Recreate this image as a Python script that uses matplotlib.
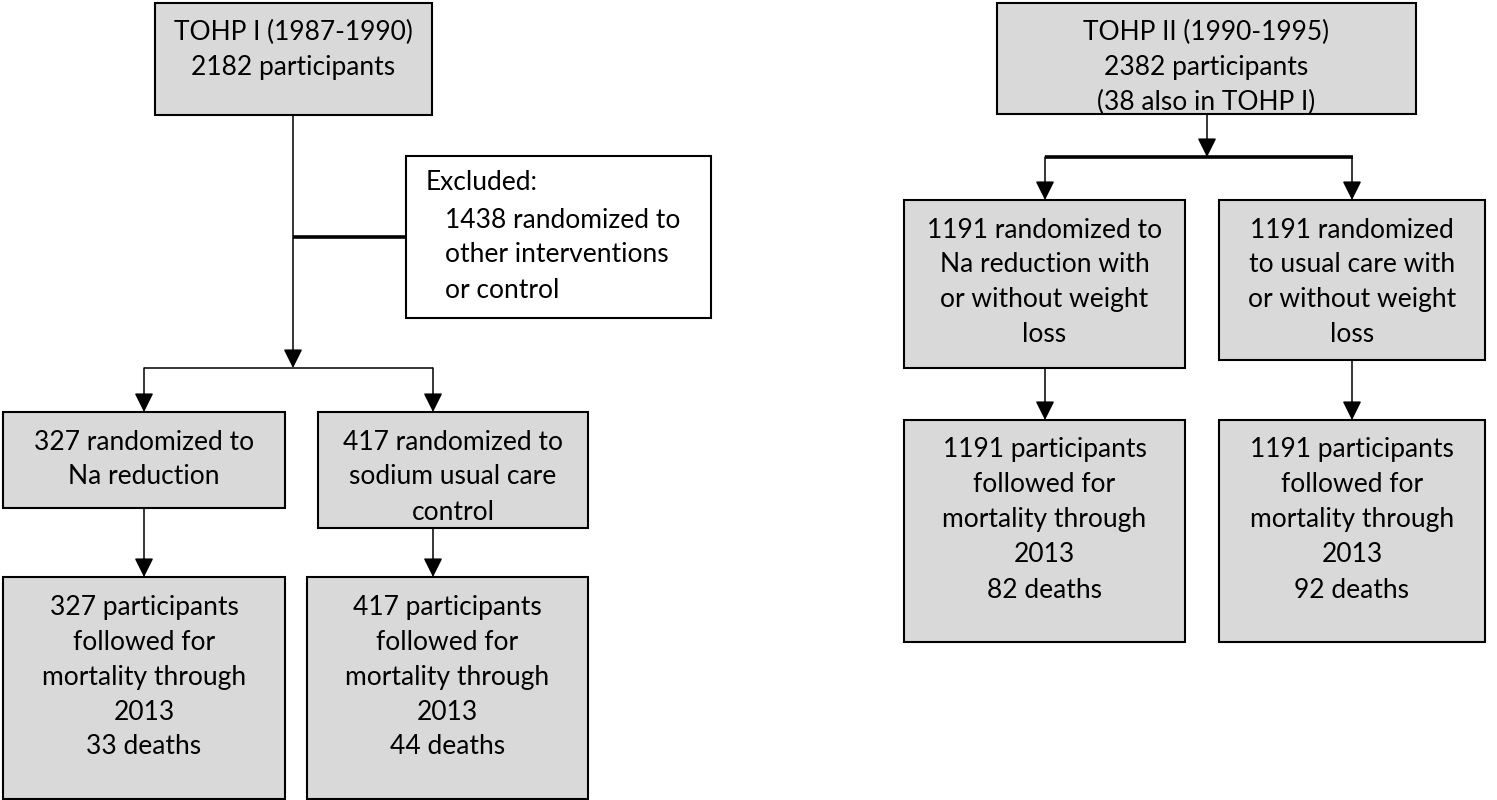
import matplotlib.pyplot as plt
from matplotlib.patches import Rectangle

# text of every box, one list per box
tohp1_top = ['TOHP I (1987-1990)', '2182 participants']
tohp1_excluded = ['Excluded:', '1438 randomized to', 'other interventions', 'or control']
tohp1_arm_na = ['327 randomized to', 'Na reduction']
tohp1_arm_uc = ['417 randomized to', 'sodium usual care', 'control']
tohp1_fu_na = ['327 participants', 'followed for', 'mortality through', '2013', '33 deaths']
tohp1_fu_uc = ['417 participants', 'followed for', 'mortality through', '2013', '44 deaths']

tohp2_top = ['TOHP II (1990-1995)', '2382 participants', '(38 also in TOHP I)']
tohp2_arm_na = ['1191 randomized to', 'Na reduction with', 'or without weight', 'loss']
tohp2_arm_uc = ['1191 randomized', 'to usual care with', 'or without weight', 'loss']
tohp2_fu_na = ['1191 participants', 'followed for', 'mortality through', '2013', '82 deaths']
tohp2_fu_uc = ['1191 participants', 'followed for', 'mortality through', '2013', '92 deaths']

plt.rcParams['font.family'] = ['Lato', 'DejaVu Sans']

GREY = '#d9d9d9'
LINE_H = 35
FS = 19

fig = plt.figure(figsize=(14.97, 8), dpi=100)
ax = fig.add_axes([0, 0, 1, 1])
ax.set_xlim(0, 1497)
ax.set_ylim(800, 0)
ax.axis('off')


def box(x0, y0, x1, y1, lines, y_first, fill=GREY):
    ax.add_patch(Rectangle((x0, y0), x1 - x0, y1 - y0, facecolor=fill,
                           edgecolor='black', linewidth=1.5))
    xc = (x0 + x1) / 2
    for i, s in enumerate(lines):
        ax.text(xc, y_first + i * LINE_H, s, ha='center', va='center',
                fontsize=FS, color='black')


def arrow(x, y0, y1):
    ax.annotate('', xy=(x, y1), xytext=(x, y0),
                arrowprops=dict(arrowstyle='-|>,head_length=0.4,head_width=0.2',
                                mutation_scale=29, lw=1.1, color='black',
                                shrinkA=0, shrinkB=0))


def line(xs, ys, lw=1.1):
    ax.plot(xs, ys, color='black', lw=lw, solid_capstyle='butt')


# ---- TOHP I ----
box(155, 3, 432, 115, tohp1_top, 32)

# excluded box, left-aligned text
ax.add_patch(Rectangle((406, 156), 305, 162, facecolor='white',
                       edgecolor='black', linewidth=1.5))
ax.text(426, 183, tohp1_excluded[0], ha='left', va='center', fontsize=FS)
for i, s in enumerate(tohp1_excluded[1:]):
    ax.text(445, 220 + i * LINE_H, s, ha='left', va='center', fontsize=FS)

arrow(293, 115, 368)
line([293, 406], [237, 237], lw=2.6)
line([144, 433], [368, 368])
arrow(144, 368, 412)
arrow(433, 368, 412)

box(3, 412, 285, 508, tohp1_arm_na, 442)
box(318, 412, 588, 528, tohp1_arm_uc, 442)
arrow(144, 508, 577)
arrow(433, 528, 577)
box(3, 577, 285, 799, tohp1_fu_na, 607)
box(307, 577, 588, 799, tohp1_fu_uc, 607)

# ---- TOHP II ----
box(997, 3, 1416, 114, tohp2_top, 32)
arrow(1207, 114, 157)
line([1045, 1353], [157, 157], lw=2.6)
arrow(1045, 157, 200)
arrow(1352, 157, 200)

box(904, 200, 1185, 368, tohp2_arm_na, 230)
box(1219, 200, 1485, 360, tohp2_arm_uc, 230)
arrow(1045, 368, 420)
arrow(1352, 360, 420)
box(904, 420, 1185, 642, tohp2_fu_na, 450)
box(1219, 420, 1485, 642, tohp2_fu_uc, 450)

plt.savefig('out.png', dpi=100)
